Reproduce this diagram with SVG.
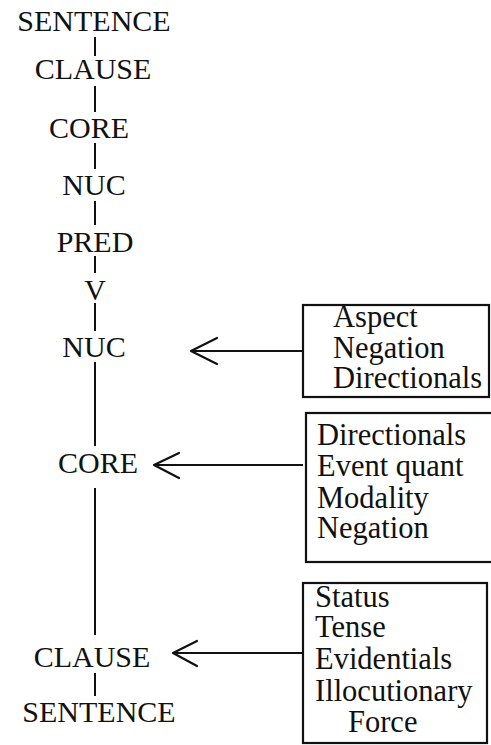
<svg xmlns="http://www.w3.org/2000/svg" width="491" height="745" viewBox="0 0 491 745">
  <style>
    text { font-family: "Liberation Serif", "Times New Roman", serif; font-size: 30px; fill: #111; }
    .lbl { text-anchor: middle; }
    .op { font-size: 30.5px; }
    .edge { stroke: #111; stroke-width: 2; fill: none; }
    .box { stroke: #111; stroke-width: 2.2; fill: #fff; }
    .head { stroke: #111; stroke-width: 2.2; fill: none; stroke-linecap: round; stroke-linejoin: round; }
  </style>
  <rect width="491" height="745" fill="#fff"/>

  <!-- spine and arrows -->
  <g id="connectors">
    <line class="edge" x1="95" y1="37" x2="95" y2="56"/>
    <line class="edge" x1="95" y1="86" x2="95" y2="112"/>
    <line class="edge" x1="95" y1="143" x2="95" y2="169"/>
    <line class="edge" x1="95" y1="201" x2="95" y2="225"/>
    <line class="edge" x1="95" y1="256" x2="95" y2="273"/>
    <line class="edge" x1="95" y1="303" x2="95" y2="331"/>
    <line class="edge" x1="95" y1="362" x2="95" y2="446"/>
    <line class="edge" x1="95" y1="488" x2="95" y2="635"/>
    <line class="edge" x1="95" y1="673" x2="95" y2="696"/>

    <line class="edge" x1="191" y1="351" x2="303" y2="351"/>
    <polyline class="head" points="217,338 191,351 217,364"/>

    <line class="edge" x1="154" y1="465" x2="303" y2="465"/>
    <polyline class="head" points="179,453 154,465 179,478"/>

    <line class="edge" x1="173" y1="653" x2="303" y2="653"/>
    <polyline class="head" points="197,641 173,653 197,666"/>
  </g>

  <!-- constituent projection -->
  <g id="sentence-top"><text class="lbl" x="94" y="31">SENTENCE</text></g>
  <g id="clause-top"><text class="lbl" x="93" y="79">CLAUSE</text></g>
  <g id="core-top"><text class="lbl" x="89" y="138">CORE</text></g>
  <g id="nuc-top"><text class="lbl" x="94" y="195">NUC</text></g>
  <g id="pred"><text class="lbl" x="95" y="252">PRED</text></g>
  <g id="v"><text class="lbl" x="95" y="300">V</text></g>

  <!-- operator projection -->
  <g id="nuc-op"><text class="lbl" x="94" y="357">NUC</text></g>
  <g id="core-op"><text class="lbl" x="98" y="473">CORE</text></g>
  <g id="clause-op"><text class="lbl" x="92" y="667">CLAUSE</text></g>
  <g id="sentence-op"><text class="lbl" x="99" y="722">SENTENCE</text></g>

  <!-- operator boxes -->
  <g id="nuc-operators">
    <rect class="box" x="303" y="305" width="186" height="92"/>
    <text class="op" x="333" y="327">Aspect</text>
    <text class="op" x="333" y="358">Negation</text>
    <text class="op" x="333" y="388">Directionals</text>
  </g>
  <g id="core-operators">
    <rect class="box" x="306" y="413" width="200" height="149"/>
    <text class="op" x="317" y="445">Directionals</text>
    <text class="op" x="317" y="476">Event quant</text>
    <text class="op" x="317" y="508">Modality</text>
    <text class="op" x="317" y="538">Negation</text>
  </g>
  <g id="clause-operators">
    <rect class="box" x="303" y="583" width="184" height="160"/>
    <text class="op" x="315" y="607">Status</text>
    <text class="op" x="315" y="637">Tense</text>
    <text class="op" x="315" y="669">Evidentials</text>
    <text class="op" x="315" y="701">Illocutionary</text>
    <text class="op" x="348" y="732">Force</text>
  </g>
</svg>
